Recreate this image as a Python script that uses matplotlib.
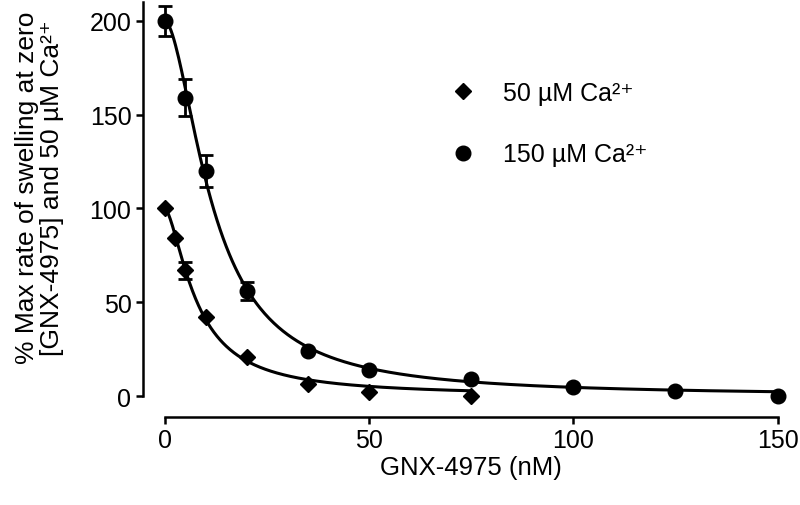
import numpy as np
import matplotlib.pyplot as plt

plt.rcParams['font.family'] = ['Liberation Sans', 'DejaVu Sans']

# 50 uM Ca2+ series
conc_50 = [0, 2.5, 5, 10, 20, 35, 50, 75]
rate_50 = [100, 84, 67, 42, 21, 6.5, 2, 0]
err_50 = [0, 0, 4.5, 0, 0, 0, 0, 0]

# 150 uM Ca2+ series
conc_150 = [0, 5, 10, 20, 35, 50, 75, 100, 125, 150]
rate_150 = [200, 159, 120, 56, 24, 14, 9, 5, 2.7, 0]
err_150 = [8, 10, 8.5, 5, 0, 0, 0, 0, 0, 0]


def hill(x, top, ic50, n):
    return top / (1 + (x / ic50) ** n)


def hill_fit(x, y, top):
    # brute force least squares over ic50 and hill slope
    x = np.asarray(x, float)
    y = np.asarray(y, float)
    best = None
    for ic50 in np.linspace(3, 30, 271):
        for n in np.linspace(0.8, 3, 221):
            sse = np.sum((hill(x, top, ic50, n) - y) ** 2)
            if best is None or sse < best[0]:
                best = (sse, ic50, n)
    return best[1], best[2]


fig = plt.figure(figsize=(8, 5.06), dpi=100)
ax = fig.add_axes([0.206, 0.2154, 0.766, 0.7787])

for xs, ys, es, mk, ms, top in [(conc_50, rate_50, err_50, 'D', 8.5, 100),
                                (conc_150, rate_150, err_150, 'o', 10.5, 200)]:
    ic50, n = hill_fit(xs, ys, top)
    xx = np.linspace(0, max(xs), 400)
    ax.plot(xx, hill(xx, top, ic50, n), color='black', lw=2.2, clip_on=False)
    ax.errorbar(xs, ys, yerr=[e if e > 0 else np.nan for e in es], fmt='none',
                ecolor='black', elinewidth=2, capsize=5, capthick=2, clip_on=False)
    ax.plot(xs, ys, mk, color='black', ms=ms, clip_on=False, ls='none')

ax.set_xlim(0, 150)
ax.set_ylim(0, 210)
ax.set_xticks([0, 50, 100, 150])
ax.set_yticks([0, 50, 100, 150, 200])

for s in ['top', 'right']:
    ax.spines[s].set_visible(False)
ax.spines['left'].set_position(('outward', 16))
ax.spines['bottom'].set_position(('outward', 15))
ax.spines['left'].set_bounds(0, 210)
for s in ['left', 'bottom']:
    ax.spines[s].set_linewidth(1.8)
ax.tick_params(width=1.8, length=5, labelsize=18, pad=3)

ax.set_xlabel('GNX-4975 (nM)', fontsize=18.5, labelpad=2)
ax.set_ylabel('% Max rate of swelling at zero\n[GNX-4975] and 50 \u00b5M Ca\u00b2\u207a',
              fontsize=19, linespacing=1.05)
ax.yaxis.set_label_coords(-0.165, 0.53)

h1, = ax.plot([], [], 'D', color='black', ms=8.5, ls='none')
h2, = ax.plot([], [], 'o', color='black', ms=10.5, ls='none')
ax.legend([h1, h2], ['50 \u00b5M Ca\u00b2\u207a', '150 \u00b5M Ca\u00b2\u207a'],
          loc='upper left', bbox_to_anchor=(0.425, 0.857), frameon=False,
          fontsize=18, labelspacing=1.5, handlelength=1.2, handletextpad=1.0)

fig.savefig('out.png', dpi=100)
